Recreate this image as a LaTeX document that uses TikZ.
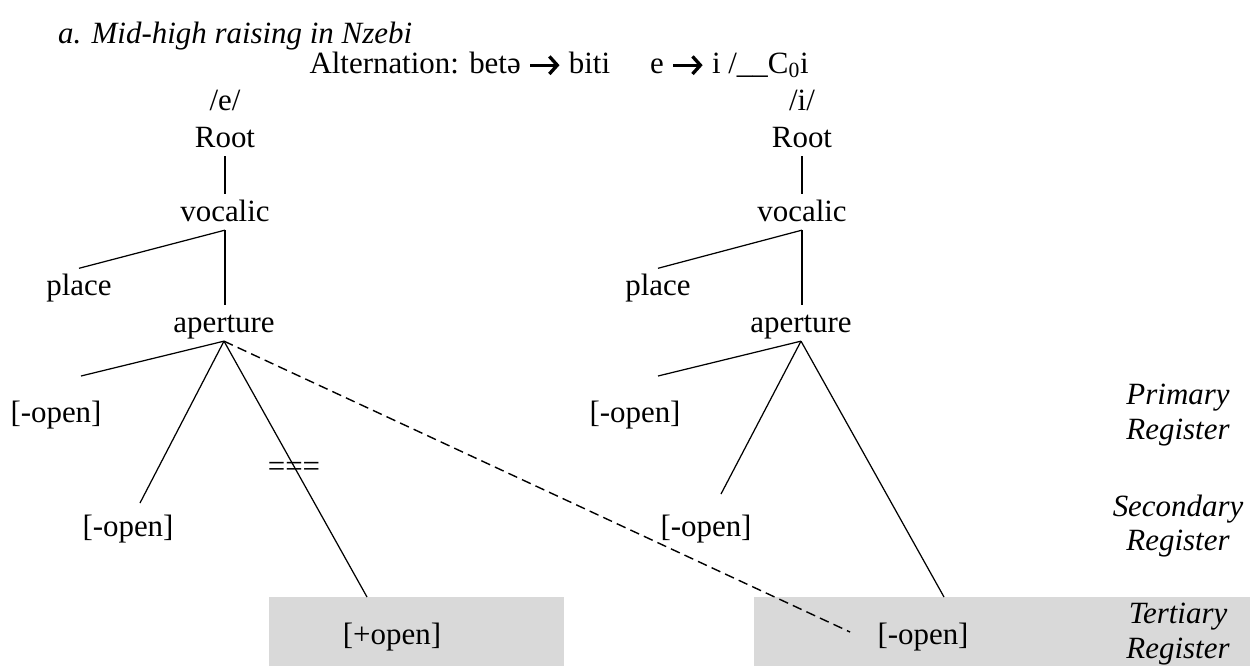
\documentclass[tikz,border=0pt]{standalone}
\usepackage{fontspec}
\setmainfont{Liberation Serif}
\usetikzlibrary{arrows.meta}
\newlength\pxl
\setlength\pxl{0.02cm}
\newcommand\treefont{\fontsize{17.6}{17.1}\selectfont}
\newcommand\arw{\tikz[baseline=-0.55ex]\draw[line width=1.9pt,-{Straight Barb[length=4.5pt,width=10pt]}] (0,0) -- (0.95em,0);}
\tikzset{
  feat/.style={inner sep=1pt, text height=14pt, text depth=4pt, anchor=base},
  reg/.style={align=center, font=\fontsize{17.6}{19.5}\selectfont\itshape},
  tier/.style={fill=black!15, draw=none},
  branch/.style={line width=0.7pt},
  linkdash/.style={line width=0.8pt, dash pattern=on 5.5pt off 3pt}
}
\begin{document}
\begin{tikzpicture}[x=0.02cm, y=-0.02cm, every node/.style={font=\treefont}]
    \useasboundingbox (0,0) rectangle (1250,666);
    %Tertiary boxes
    \fill[tier] (269,597) rectangle (564,666);
    \fill[tier] (754,597) rectangle (1250,666);
    %Heading
    \node[anchor=base west, font=\treefont\itshape] (title) at (52,43) {a. Mid-high raising in Nzebi};
    \node[anchor=base east] (alt) at (815,73) {Alternation: betə \arw\ biti\hspace{40\pxl}e \arw\ i /\_\_C\textsubscript{0}i};
    %Left tree
    \node[feat] (eL) at (225,110) {/e/};
    \node[feat] (rootL) at (225,147) {Root};
    \node[feat] (vocL) at (225,221) {vocalic};
    \node[feat] (placeL) at (79,295) {place};
    \node[feat] (apL) at (224,332) {aperture};
    \node[feat] (priL) at (56,422) {[-open]};
    \node[feat] (secL) at (128,536) {[-open]};
    \node[feat] (terL) at (392,644) {[+open]};
    \coordinate (priLend) at (81,376);
    \coordinate (secLend) at (140,503);
    \coordinate (terLend) at (367,597);
    \draw[branch] (rootL) -- (vocL);
    \draw[branch] (vocL.south) -- (placeL.north);
    \draw[branch] (vocL.south) -- (vocL.south |- apL.north);
    \draw[branch] (apL.south) -- (priLend);
    \draw[branch] (apL.south) -- (secLend);
    \draw[branch] (apL.south) -- (terLend);
    \node[anchor=base] (cut) at (294,476) {===};
    %Right tree
    \node[feat] (iR) at (802,110) {/i/};
    \node[feat] (rootR) at (802,147) {Root};
    \node[feat] (vocR) at (802,221) {vocalic};
    \node[feat] (placeR) at (658,295) {place};
    \node[feat] (apR) at (801,332) {aperture};
    \node[feat] (priR) at (635,422) {[-open]};
    \node[feat] (secR) at (706,536) {[-open]};
    \node[feat] (terR) at (923,644) {[-open]};
    \coordinate (priRend) at (658,376);
    \coordinate (secRend) at (721,494);
    \coordinate (terRend) at (944,597);
    \coordinate (spreadEnd) at (850,632);
    \draw[branch] (rootR) -- (vocR);
    \draw[branch] (vocR.south) -- (placeR.north);
    \draw[branch] (vocR.south) -- (vocR.south |- apR.north);
    \draw[branch] (apR.south) -- (priRend);
    \draw[branch] (apR.south) -- (secRend);
    \draw[branch] (apR.south) -- (terRend);
    %Spreading
    \draw[linkdash] (apL.south) -- (spreadEnd);
    %Registers
    \node[reg] (primary) at (1178,415) {Primary\\Register};
    \node[reg] (secondary) at (1178,526) {Secondary\\Register};
    \node[reg] (tertiary) at (1178,634) {Tertiary\\Register};
\end{tikzpicture}
\end{document}
